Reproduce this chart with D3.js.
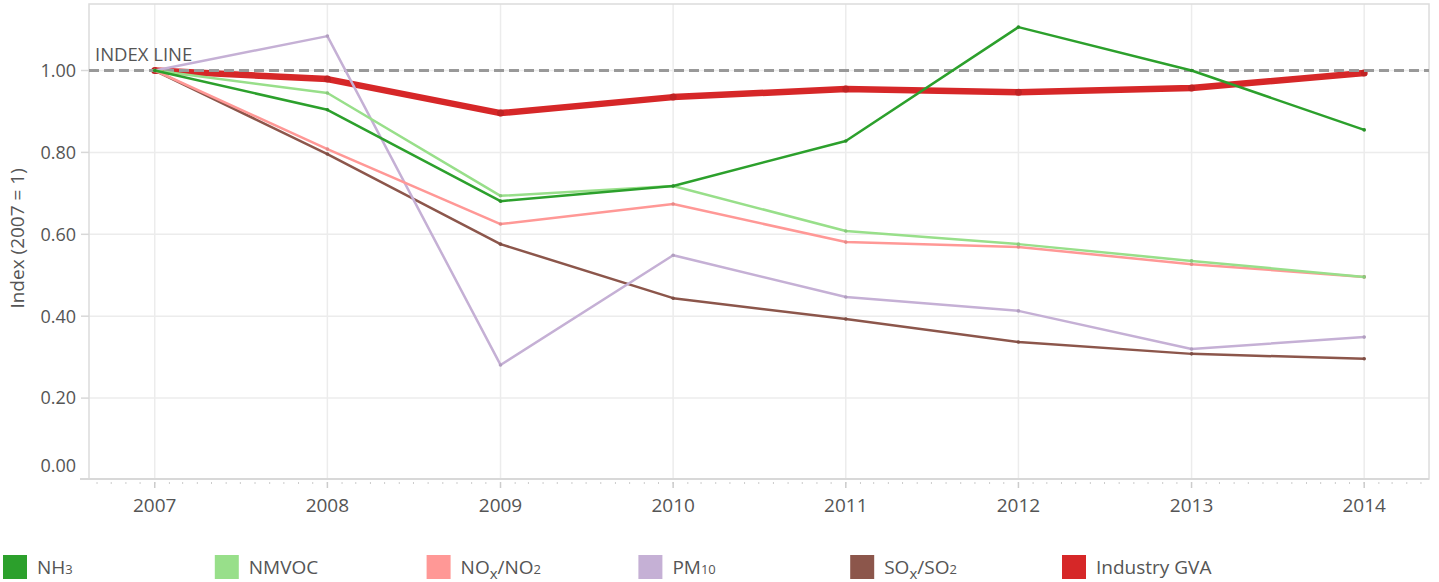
<!DOCTYPE html>
<meta charset="utf-8">
<style>
body { margin: 0; font-family: "Open Sans", sans-serif; color: #555; background: #fff; }
.grid line { stroke: #ececec; stroke-width: 1.5; }
.axis text { font-size: 19px; fill: #555; }
.series { fill: none; stroke-linejoin: round; }
.legend text { font-size: 19px; fill: #555; }
</style>
<body>
<script src="https://d3js.org/d3.v7.min.js"></script>
<script>
// data
var years = [2007, 2008, 2009, 2010, 2011, 2012, 2013, 2014];
var nh3      = [1.00, 0.904, 0.681, 0.718, 0.828, 1.106, 1.000, 0.855];
var nmvoc    = [1.00, 0.945, 0.694, 0.718, 0.608, 0.576, 0.535, 0.496];
var nox      = [1.00, 0.808, 0.625, 0.674, 0.581, 0.569, 0.527, 0.496];
var pm10     = [1.00, 1.084, 0.281, 0.549, 0.447, 0.413, 0.320, 0.349];
var sox      = [1.00, 0.796, 0.576, 0.444, 0.393, 0.337, 0.308, 0.296];
var industry = [1.00, 0.979, 0.896, 0.935, 0.955, 0.947, 0.957, 0.994];
var yTicks = [0, 0.2, 0.4, 0.6, 0.8, 1.0];

var seriesList = [
  {name: "NH3", values: nh3, color: "#2ca02c", width: 2.5},
  {name: "NMVOC", values: nmvoc, color: "#98df8a", width: 2.5},
  {name: "NOx/NO2", values: nox, color: "#ff9896", width: 2.5},
  {name: "PM10", values: pm10, color: "#c5b0d5", width: 2.5},
  {name: "SOx/SO2", values: sox, color: "#8c564b", width: 2.5},
  {name: "Industry GVA", values: industry, color: "#d62728", width: 6.5}
];

var W = 1439, H = 582;
var margin = {top: 4, right: 10, bottom: 103, left: 89};
var width = W - margin.left - margin.right,
    height = H - margin.top - margin.bottom;

var x = d3.scaleTime()
    .domain([new Date(2006, 7, 15), new Date(2014, 4, 18)])
    .range([0, width]);
var y = d3.scaleLinear().domain([0, 1]).range([476, 66.5]);

var svg = d3.select("body").append("svg")
    .attr("width", W)
    .attr("height", H);
var g = svg.append("g")
    .attr("transform", "translate(" + margin.left + "," + margin.top + ")");

// grid
var grid = g.append("g").attr("class", "grid");
grid.selectAll(".h").data(yTicks.slice(1)).enter().append("line")
    .attr("x1", 0).attr("x2", width)
    .attr("y1", function(d) { return y(d); }).attr("y2", function(d) { return y(d); });
grid.selectAll(".v").data(years).enter().append("line")
    .attr("x1", function(d) { return x(new Date(d, 0, 1)); })
    .attr("x2", function(d) { return x(new Date(d, 0, 1)); })
    .attr("y1", 0).attr("y2", height);

// frame
g.append("rect")
    .attr("width", width).attr("height", height)
    .attr("fill", "none").attr("stroke", "#dcdcdc").attr("stroke-width", 1.5);

// x axis: minor month ticks and year ticks
var xa = g.append("g").attr("class", "axis")
    .attr("transform", "translate(0," + height + ")");
xa.append("line").attr("x1", -9).attr("x2", width)
    .attr("stroke", "#d8d8d8").attr("stroke-width", 2);
xa.selectAll(".minor").data(d3.timeMonths(x.domain()[0], x.domain()[1])).enter().append("line")
    .attr("x1", function(d) { return x(d); }).attr("x2", function(d) { return x(d); })
    .attr("y1", 3).attr("y2", 5).attr("stroke", "#ccc");
xa.selectAll(".major").data(years).enter().append("line")
    .attr("x1", function(d) { return x(new Date(d, 0, 1)); })
    .attr("x2", function(d) { return x(new Date(d, 0, 1)); })
    .attr("y1", 3).attr("y2", 9).attr("stroke", "#ccc").attr("stroke-width", 1.5);
xa.selectAll(".lbl").data(years).enter().append("text")
    .attr("x", function(d) { return x(new Date(d, 0, 1)); })
    .attr("y", 33)
    .attr("text-anchor", "middle")
    .text(function(d) { return d; });

// y axis
var ya = g.append("g").attr("class", "axis");
ya.selectAll(".t").data(yTicks.slice(1)).enter().append("line")
    .attr("x1", -8).attr("x2", 0)
    .attr("y1", function(d) { return y(d); }).attr("y2", function(d) { return y(d); })
    .attr("stroke", "#d8d8d8").attr("stroke-width", 1.5);
ya.selectAll("text").data(yTicks).enter().append("text")
    .attr("x", -13)
    .attr("y", function(d) { return d === 0 ? y(d) - 14 : y(d); })
    .attr("dy", "0.35em")
    .attr("text-anchor", "end")
    .style("font-size", "18px")
    .text(function(d) { return d3.format(".2f")(d); });
svg.append("text")
    .attr("transform", "translate(24," + (margin.top + y(0.59)) + ") rotate(-90)")
    .attr("text-anchor", "middle")
    .style("font-size", "19px").style("fill", "#555")
    .text("Index (2007 = 1)");

var line = d3.line()
    .x(function(d, i) { return x(new Date(years[i], 0, 1)); })
    .y(function(d) { return y(d); });

function drawSeries(s) {
  g.append("path")
      .datum(s.values)
      .attr("class", "series")
      .attr("stroke", s.color)
      .attr("stroke-width", s.width)
      .attr("d", line);
  g.selectAll(null).data(s.values).enter().append("circle")
      .attr("cx", function(d, i) { return x(new Date(years[i], 0, 1)); })
      .attr("cy", function(d) { return y(d); })
      .attr("r", s.width > 3 ? 3.5 : 1.8)
      .attr("fill", d3.color(s.color).darker(0.3));
}

drawSeries(seriesList[5]);

// index line
g.append("line")
    .attr("x1", 0).attr("x2", width)
    .attr("y1", y(1)).attr("y2", y(1))
    .attr("stroke", "#999").attr("stroke-width", 3)
    .attr("stroke-dasharray", "10,5");
g.append("text")
    .attr("x", 6).attr("y", y(1) - 10)
    .style("font-size", "18.5px").style("fill", "#555")
    .text("INDEX LINE");

seriesList.slice(0, 5).reverse().forEach(drawSeries);

// legend, with sub/lowered parts: 0 normal, 1 small digits, 2 lowered x
var labelParts = {
  "NH3": [["NH", 0], ["3", 1]],
  "NMVOC": [["NMVOC", 0]],
  "NOx/NO2": [["NO", 0], ["x", 2], ["/NO", 0], ["2", 1]],
  "PM10": [["PM", 0], ["10", 1]],
  "SOx/SO2": [["SO", 0], ["x", 2], ["/SO", 0], ["2", 1]],
  "Industry GVA": [["Industry GVA", 0]]
};
var legend = svg.append("g").attr("class", "legend")
    .selectAll("g").data(seriesList).enter().append("g")
    .attr("transform", function(d, i) { return "translate(" + (3 + i * 211.8) + ",555)"; });
legend.append("rect")
    .attr("width", 24).attr("height", 24)
    .attr("fill", function(d) { return d.color; });
legend.append("text")
    .attr("x", 34).attr("y", 19)
    .each(function(d) {
      var t = d3.select(this), y0 = 0;
      labelParts[d.name].forEach(function(p) {
        var want = p[1] === 2 ? 5 : 0;
        var ts = t.append("tspan").attr("dy", want - y0).text(p[0]);
        if (p[1] === 1) ts.style("font-size", "13px");
        if (p[1] === 2) ts.style("font-size", "15px");
        y0 = want;
      });
    });
</script>
</body>
